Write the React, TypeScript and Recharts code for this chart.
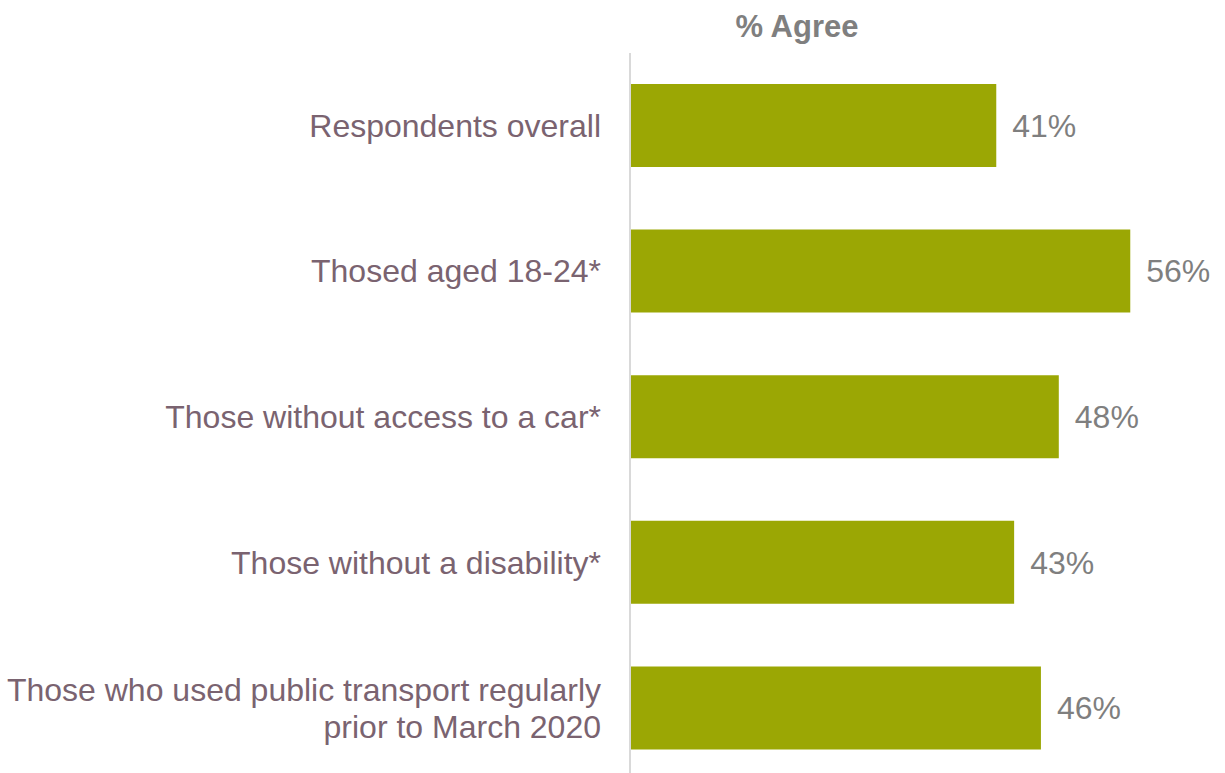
import React from 'react';
import { BarChart, Bar, XAxis, YAxis, LabelList } from 'recharts';

const categories = [
  'Respondents overall',
  'Thosed aged 18-24*',
  'Those without access to a car*',
  'Those without a disability*',
  'Those who used public transport regularly\nprior to March 2020',
];
const agreeValues = [41, 56, 48, 43, 46];

const data = categories.map((name, i) => ({ name, agree: agreeValues[i] }));

const FONT = '"Liberation Sans", Arial, sans-serif';

const CategoryTick = (props: any) => {
  const { x, y, payload } = props;
  const lines: string[] = String(payload.value).split('\n');
  const lh = 37;
  const startY = y - ((lines.length - 1) * lh) / 2;
  return (
    <text x={x} y={startY} textAnchor="end" fill="#7A6370" fontSize={32} fontFamily={FONT} dominantBaseline="central">
      {lines.map((l, i) => (
        <tspan key={i} x={x} y={startY + i * lh} dominantBaseline="central">
          {l}
        </tspan>
      ))}
    </text>
  );
};

const App: React.FC = () => {
  return (
    <div style={{ position: 'absolute', left: 0, top: 0, width: 1225, height: 773, overflow: 'hidden', background: '#fff' }}>
      <div
        style={{
          position: 'absolute',
          left: 697,
          width: 200,
          top: 9,
          textAlign: 'center',
          fontFamily: FONT,
          fontWeight: 'bold',
          fontSize: 31,
          lineHeight: '36px',
          color: '#7F7F7F',
        }}
      >
        % Agree
      </div>
      <BarChart
        width={1225}
        height={800}
        data={data}
        layout="vertical"
        margin={{ top: 53, right: 59, bottom: 19, left: 0 }}
      >
        <XAxis type="number" domain={[0, 60]} hide />
        <YAxis
          type="category"
          dataKey="name"
          width={630}
          axisLine={{ stroke: '#D9D9D9', strokeWidth: 2 }}
          tickLine={false}
          tickMargin={23}
          tick={<CategoryTick />}
          interval={0}
        />
        <Bar dataKey="agree" fill="#9BA704" barSize={83} isAnimationActive={false}>
          <LabelList
            dataKey="agree"
            position="right"
            offset={16}
            formatter={(v: any) => `${v}%`}
            fill="#7F7F7F"
            fontSize={32}
            fontFamily={FONT}
          />
        </Bar>
      </BarChart>
    </div>
  );
};

export default App;
